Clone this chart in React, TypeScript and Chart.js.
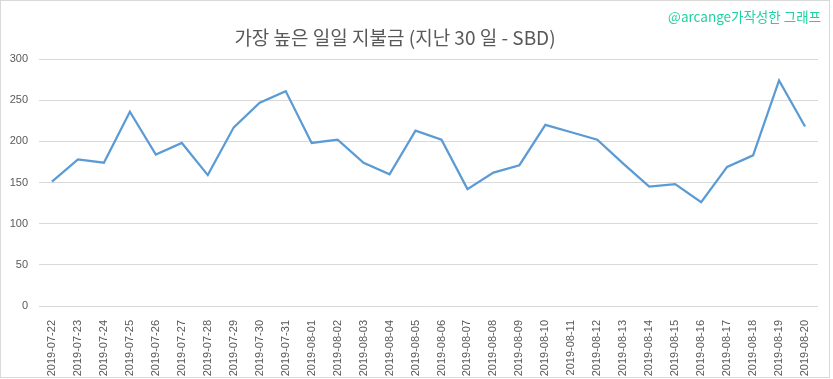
import React, { useEffect, useRef } from "react";
import { Chart, registerables } from "chart.js";

Chart.register(...registerables);

const titleText = "가장 높은 일일 지불금 (지난 30 일 - SBD)";
const watermarkText = "@arcange가작성한 그래프";

const dates = [
  "2019-07-22", "2019-07-23", "2019-07-24", "2019-07-25", "2019-07-26",
  "2019-07-27", "2019-07-28", "2019-07-29", "2019-07-30", "2019-07-31",
  "2019-08-01", "2019-08-02", "2019-08-03", "2019-08-04", "2019-08-05",
  "2019-08-06", "2019-08-07", "2019-08-08", "2019-08-09", "2019-08-10",
  "2019-08-11", "2019-08-12", "2019-08-13", "2019-08-14", "2019-08-15",
  "2019-08-16", "2019-08-17", "2019-08-18", "2019-08-19", "2019-08-20",
];

const payouts = [
  151, 178, 174, 236, 184, 198, 159, 217, 247, 261,
  198, 202, 174, 160, 213, 202, 142, 162, 171, 220,
  211, 202, 173, 145, 148, 126, 169, 183, 274, 218,
];

const yMin = 0;
const yMax = 300;
const yStep = 50;

export default function App() {
  const canvasRef = useRef<HTMLCanvasElement | null>(null);

  useEffect(() => {
    if (!canvasRef.current) return;
    const chart = new Chart(canvasRef.current, {
      type: "line",
      data: {
        labels: dates,
        datasets: [
          {
            data: payouts,
            borderColor: "#5b9bd5",
            borderWidth: 2.25,
            pointRadius: 0,
            tension: 0,
            fill: false,
          },
        ],
      },
      options: {
        animation: false,
        responsive: false,
        maintainAspectRatio: false,
        layout: { padding: { top: 59, right: 15, left: 0, bottom: 0 } },
        plugins: {
          legend: { display: false },
          title: { display: false },
          tooltip: { enabled: false },
        },
        scales: {
          x: {
            type: "category",
            offset: true,
            grid: { display: false },
            border: { display: false },
            ticks: {
              color: "#595959",
              font: { family: "'Liberation Sans', sans-serif", size: 11 },
              minRotation: 90,
              maxRotation: 90,
              autoSkip: false,
              padding: 6,
            },
            afterFit: (scale: any) => {
              scale.height = 73;
            },
          },
          y: {
            min: yMin,
            max: yMax,
            grid: { color: "#d9d9d9", lineWidth: 1, drawTicks: false },
            border: { display: false },
            ticks: {
              stepSize: yStep,
              color: "#595959",
              font: { family: "'Liberation Sans', sans-serif", size: 11 },
              padding: 11,
            },
            afterFit: (scale: any) => {
              scale.width = 39;
            },
          },
        },
      },
    });
    return () => chart.destroy();
  }, []);

  return (
    <div style={{ position: "fixed", left: 0, top: 0, width: 833, height: 379, background: "#fff" }}>
      <canvas ref={canvasRef} width={833} height={379} style={{ position: "absolute", left: 0, top: 0 }} />
      <div
        style={{
          position: "absolute",
          left: 0,
          top: 0,
          width: 830,
          height: 378,
          boxSizing: "border-box",
          border: "1px solid #d9d9d9",
          pointerEvents: "none",
        }}
      />
      <div
        style={{
          position: "absolute",
          left: 195,
          top: 23,
          width: 400,
          textAlign: "center",
          whiteSpace: "nowrap",
          fontFamily: "'Noto Sans CJK KR', sans-serif",
          fontSize: 19,
          color: "#595959",
        }}
      >
        {titleText}
      </div>
      <div
        style={{
          position: "absolute",
          right: 12,
          top: 6,
          whiteSpace: "nowrap",
          fontFamily: "'Noto Sans CJK KR', sans-serif",
          fontSize: 13.5,
          color: "#1dd3a0",
        }}
      >
        {watermarkText}
      </div>
    </div>
  );
}
